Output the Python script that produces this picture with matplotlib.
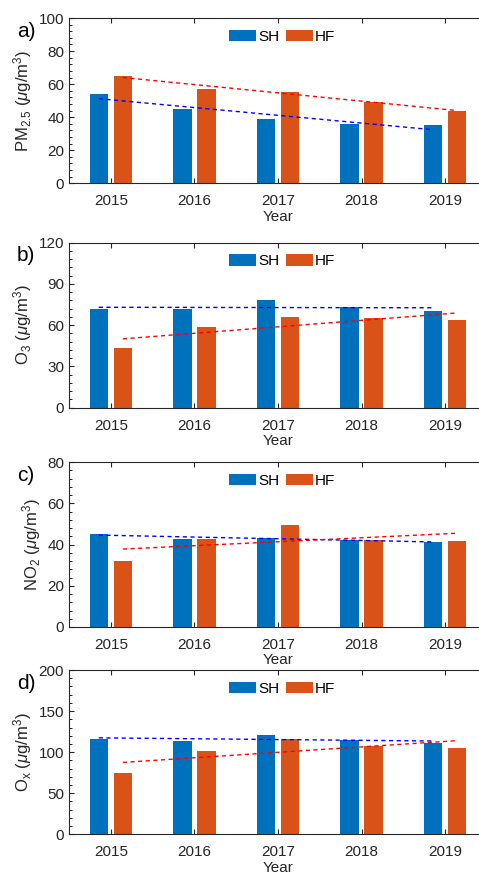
#!/usr/bin/env python3
"""Annual pollutant means in SH and HF, 2015-2019, four stacked panels."""

import matplotlib
matplotlib.use("Agg")
import matplotlib.pyplot as plt
import numpy as np
from matplotlib.ticker import AutoMinorLocator, MultipleLocator

plt.rcParams["font.family"] = ["Liberation Sans", "DejaVu Sans"]
plt.rcParams["mathtext.fontset"] = "custom"
plt.rcParams["mathtext.rm"] = "Liberation Sans"
plt.rcParams["mathtext.it"] = "Liberation Sans:italic"

years = [2015, 2016, 2017, 2018, 2019]

pm25_sh = [54, 45, 39, 36, 35]
pm25_hf = [65, 57, 55, 49, 44]
o3_sh = [71.5, 71.5, 78, 73, 70.3]
o3_hf = [43.6, 58.7, 66.2, 65, 64]
no2_sh = [45.3, 42.5, 43.3, 42, 41.4]
no2_hf = [31.8, 42.8, 49.6, 42.2, 41.7]
ox_sh = [116.4, 114, 121, 114.8, 111.2]
ox_hf = [74.6, 101.4, 115.6, 107.5, 104.7]

panel_tags = ["a)", "b)", "c)", "d)"]
ylabels = [
    r"PM$_{2.5}$ ($\mathit{\mu}$g/m$^3$)",
    r"O$_3$ ($\mathit{\mu}$g/m$^3$)",
    r"NO$_2$ ($\mathit{\mu}$g/m$^3$)",
    r"O$_\mathrm{x}$ ($\mathit{\mu}$g/m$^3$)",
]
ylims = [100, 120, 80, 200]
ysteps = [20, 30, 20, 50]

SH_COLOR = "#0072BD"
HF_COLOR = "#D95319"

W, H = 479, 873
fig = plt.figure(figsize=(W / 100, H / 100), dpi=100)

# axes boxes in pixels: (top, bottom); right edge runs past the image as in the source
boxes = [(18, 183.3), (242.7, 407.7), (462, 627), (670, 834.3)]
left_px, right_px = 69, 487

series = [(pm25_sh, pm25_hf), (o3_sh, o3_hf), (no2_sh, no2_hf), (ox_sh, ox_hf)]
x = np.array(years, dtype=float)
off = 0.144
bw = 0.22

for i, ((sh, hf), (top, bot)) in enumerate(zip(series, boxes)):
    ax = fig.add_axes([left_px / W, 1 - bot / H, (right_px - left_px) / W, (bot - top) / H])
    ax.bar(x - off, sh, bw, color=SH_COLOR, label="SH", zorder=2)
    ax.bar(x + off, hf, bw, color=HF_COLOR, label="HF", zorder=2)

    # linear trend of each city, drawn over its own bars
    for vals, pos, c in ((sh, x - off, "b"), (hf, x + off, "r")):
        k, b = np.polyfit(x, vals, 1)
        ax.plot(pos, k * x + b, ls=(0, (3, 2.5)), color=c, lw=1.0, zorder=3)

    ax.set_xlim(2014.5, 2019.5)
    ax.set_ylim(0, ylims[i])
    ax.set_xticks(years)
    ax.yaxis.set_major_locator(MultipleLocator(ysteps[i]))
    ax.yaxis.set_minor_locator(AutoMinorLocator(5))
    ax.tick_params(direction="in", top=True, right=False, labelsize=11,
                   colors="#262626", length=3.5, width=0.8)
    ax.tick_params(which="minor", direction="in", length=2, left=True, width=0.6)
    ax.tick_params(axis="x", pad=8)
    for s in ax.spines.values():
        s.set_color("#262626")
        s.set_linewidth(0.8)
    ax.spines["right"].set_visible(False)

    ax.set_xlabel("Year", fontsize=11, color="#262626", labelpad=1)
    ax.set_ylabel(ylabels[i], fontsize=12, color="#262626", labelpad=3)
    ax.legend(loc="upper center", bbox_to_anchor=(0.51, 0.985), ncol=2, frameon=False,
              fontsize=11, handlelength=1.75, handleheight=0.8, columnspacing=0.45,
              handletextpad=0.15, borderaxespad=0.2)
    ax.text(-0.124, 0.92, panel_tags[i], transform=ax.transAxes, fontsize=15,
            ha="left", va="center")

fig.savefig("out.png", dpi=100)
